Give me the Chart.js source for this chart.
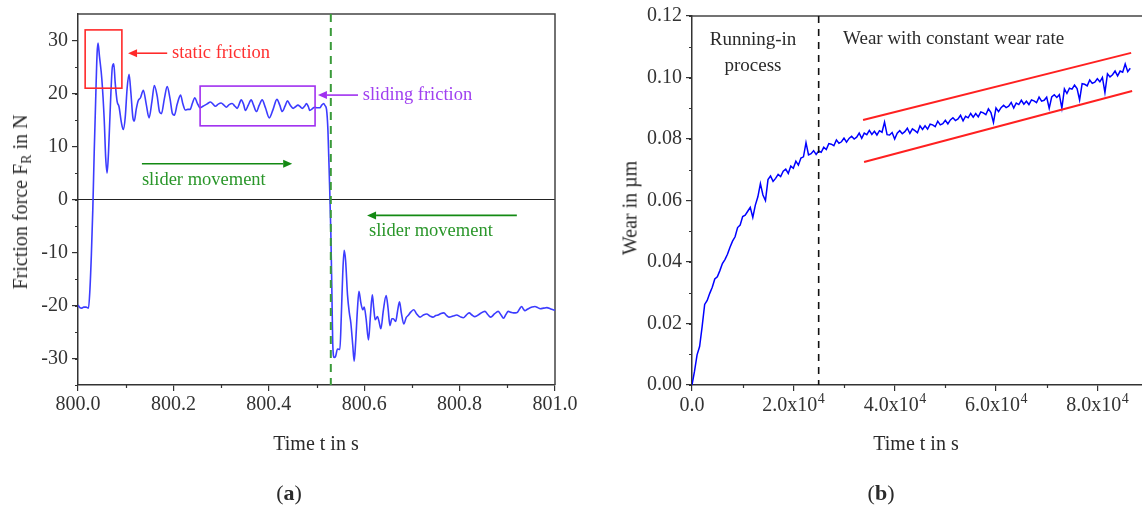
<!DOCTYPE html>
<html>
<head>
<meta charset="utf-8">
<script src="https://cdn.jsdelivr.net/npm/chart.js@4.4.1/dist/chart.umd.min.js"></script>
<style>
    html, body { margin: 0; padding: 0; background: #fff; }
    #page { position: relative; width: 1142px; height: 511px; overflow: hidden; font-family: "Liberation Serif", serif; color: #2a2a2a; }
    .box { position: absolute; top: 0; height: 511px; }
    #boxA { left: 0; width: 585px; }
    #boxB { left: 580px; width: 580px; }
    .lbl { position: absolute; font-size: 20px; white-space: nowrap; transform: translate(-50%, -50%); }
    .rot { transform: translate(-50%, -50%) rotate(-90deg); }
    .cap { font-size: 22px; }
    sub { font-size: 14px; vertical-align: -4px; }
</style>
</head>
<body>
<div id="page">
    <div class="box" id="boxA"><canvas id="chartA" width="585" height="511"></canvas></div>
    <div class="box" id="boxB"><canvas id="chartB" width="580" height="511"></canvas></div>
    <div class="lbl rot" style="left:22px;top:202px">Friction force F<sub>R</sub> in N</div>
    <div class="lbl" style="left:316px;top:443px">Time t in s</div>
    <div class="lbl cap" style="left:289px;top:493px">(<b>a</b>)</div>
    <div class="lbl rot" style="left:630px;top:208px">Wear in µm</div>
    <div class="lbl" style="left:916px;top:443px">Time t in s</div>
    <div class="lbl cap" style="left:881px;top:493px">(<b>b</b>)</div>
</div>
<script>
// (a) friction force over one stroke reversal
const forceTimes = [
    800.000, 800.004, 800.008, 800.012, 800.017, 800.022, 800.025, 800.028, 800.031, 800.034,
    800.037, 800.040, 800.042, 800.045, 800.050, 800.055, 800.058, 800.061, 800.064, 800.068,
    800.072, 800.075, 800.078, 800.082, 800.086, 800.091, 800.095, 800.099, 800.103, 800.107,
    800.111, 800.115, 800.118, 800.122, 800.126, 800.131, 800.137, 800.143, 800.149, 800.155,
    800.160, 800.166, 800.171, 800.175, 800.181, 800.187, 800.193, 800.198, 800.202, 800.208,
    800.215, 800.220, 800.225, 800.230, 800.235, 800.240, 800.245, 800.250, 800.256, 800.262,
    800.270, 800.278, 800.283, 800.288, 800.294, 800.300, 800.306, 800.311, 800.317, 800.323,
    800.329, 800.334, 800.338, 800.342, 800.347, 800.351, 800.357, 800.363, 800.368, 800.374,
    800.380, 800.386, 800.393, 800.401, 800.409, 800.417, 800.423, 800.428, 800.434, 800.439,
    800.445, 800.451, 800.456, 800.461, 800.466, 800.470, 800.475, 800.479, 800.483, 800.486,
    800.491, 800.496, 800.501, 800.507, 800.511, 800.515, 800.518, 800.521, 800.524, 800.527,
    800.530, 800.532, 800.534, 800.537, 800.540, 800.544, 800.549, 800.552, 800.555, 800.558,
    800.561, 800.565, 800.569, 800.572, 800.576, 800.579, 800.582, 800.586, 800.589, 800.593,
    800.597, 800.600, 800.604, 800.609, 800.613, 800.617, 800.620, 800.623, 800.628, 800.631,
    800.635, 800.640, 800.646, 800.650, 800.654, 800.658, 800.661, 800.666, 800.670, 800.674,
    800.678, 800.683, 800.688, 800.692, 800.698, 800.704, 800.710, 800.717, 800.724, 800.731,
    800.738, 800.744, 800.750, 800.755, 800.761, 800.767, 800.773, 800.778, 800.786, 800.794,
    800.801, 800.808, 800.814, 800.820, 800.826, 800.832, 800.842, 800.853, 800.859, 800.865,
    800.873, 800.881, 800.887, 800.892, 800.897, 800.902, 800.908, 800.913, 800.917, 800.921,
    800.926, 800.930, 800.934, 800.937, 800.942, 800.946, 800.952, 800.958, 800.964, 800.969,
    800.976, 800.983, 800.990, 800.996, 801.000
];
const forceValues = [
    -19.9, -20.4, -20.5, -20.3, -20.3, -20.5, -17.0, -10.5, -2.0, 9.0,
    18.6, 27.5, 29.5, 27.0, 22.7, 15.0, 8.0, 5.0, 9.0, 18.0,
    25.0, 25.6, 22.0, 18.5, 17.5, 14.5, 13.2, 15.5, 21.0, 23.6,
    20.0, 15.5, 14.8, 17.0, 18.6, 19.2, 20.6, 18.0, 15.4, 18.5,
    21.5, 19.5, 16.5, 16.2, 19.0, 21.3, 19.0, 16.2, 15.9, 18.0,
    19.7, 18.0, 16.9, 17.0, 17.0, 18.2, 19.2, 18.2, 17.3, 17.6,
    18.0, 18.4, 18.0, 17.6, 18.0, 18.2, 17.8, 17.4, 17.9, 18.1,
    17.6, 17.2, 18.0, 18.8, 18.0, 16.8, 17.8, 18.8, 17.8, 16.6,
    17.8, 18.8, 17.3, 15.4, 17.0, 18.9, 17.8, 16.6, 17.6, 18.6,
    17.8, 17.2, 17.5, 17.8, 17.5, 17.2, 17.6, 18.1, 17.5, 16.8,
    17.1, 17.4, 17.3, 17.3, 17.8, 18.1, 17.7, 17.0, 13.0, 4.0,
    -6.0, -16.0, -27.0, -29.8, -29.6, -28.2, -28.3, -22.0, -14.0, -9.6,
    -11.5, -18.0, -21.5, -23.3, -27.5, -30.5, -27.0, -20.5, -17.3, -19.5,
    -20.8, -20.3, -22.5, -26.5, -22.0, -18.0, -20.5, -22.7, -22.1, -23.0,
    -24.4, -21.0, -18.1, -20.5, -23.8, -22.5, -22.5, -23.0, -21.0, -19.3,
    -21.5, -23.5, -22.3, -21.9, -21.2, -20.8, -21.6, -22.2, -21.8, -21.6,
    -22.0, -22.2, -21.9, -21.8, -21.5, -21.4, -21.9, -22.2, -22.0, -21.8,
    -22.1, -22.3, -21.8, -21.4, -21.8, -22.1, -21.6, -21.1, -21.7, -22.2,
    -21.6, -21.1, -21.8, -22.4, -21.7, -21.1, -21.3, -21.4, -21.4, -21.3,
    -20.6, -20.2, -20.7, -21.0, -20.7, -20.5, -20.3, -20.2, -20.4, -20.6,
    -20.5, -20.4, -20.6, -20.8, -20.9
];
const forceTicksX = [800.0, 800.2, 800.4, 800.6, 800.8, 801.0];
const forceTicksY = [-30, -20, -10, 0, 10, 20, 30];
const reversalTime = 800.53;

// (b) wear over the test, one sample every 500 s
const wearStep = 500;
const wearValues = [
    0.0000, 0.0045, 0.0098, 0.0125, 0.0190, 0.0262, 0.0275, 0.0298, 0.0318, 0.0345,
    0.0352, 0.0372, 0.0395, 0.0408, 0.0425, 0.0448, 0.0468, 0.0482, 0.0512, 0.0520,
    0.0548, 0.0552, 0.0565, 0.0578, 0.0545, 0.0585, 0.0612, 0.0655, 0.0618, 0.0600,
    0.0668, 0.0680, 0.0662, 0.0672, 0.0685, 0.0678, 0.0695, 0.0702, 0.0688, 0.0712,
    0.0705, 0.0728, 0.0715, 0.0738, 0.0742, 0.0788, 0.0748, 0.0752, 0.0762, 0.0750,
    0.0761, 0.0757, 0.0773, 0.0766, 0.0785, 0.0783, 0.0778, 0.0797, 0.0786, 0.0791,
    0.0803, 0.0790, 0.0802, 0.0809, 0.0800, 0.0806, 0.0819, 0.0802, 0.0819, 0.0814,
    0.0828, 0.0815, 0.0825, 0.0813, 0.0827, 0.0822, 0.0855, 0.0814, 0.0813, 0.0821,
    0.0800, 0.0819, 0.0827, 0.0817, 0.0824, 0.0835, 0.0818, 0.0833, 0.0827, 0.0820,
    0.0843, 0.0831, 0.0843, 0.0832, 0.0848, 0.0846, 0.0840, 0.0858, 0.0846, 0.0850,
    0.0861, 0.0849, 0.0862, 0.0869, 0.0860, 0.0865, 0.0877, 0.0859, 0.0874, 0.0869,
    0.0883, 0.0871, 0.0883, 0.0872, 0.0888, 0.0885, 0.0879, 0.0898, 0.0886, 0.0854,
    0.0901, 0.0889, 0.0902, 0.0910, 0.0902, 0.0907, 0.0919, 0.0901, 0.0917, 0.0912,
    0.0926, 0.0913, 0.0923, 0.0912, 0.0927, 0.0924, 0.0918, 0.0936, 0.0923, 0.0926,
    0.0936, 0.0900, 0.0937, 0.0944, 0.0935, 0.0944, 0.0900, 0.0963, 0.0948, 0.0965,
    0.0962, 0.0975, 0.0964, 0.0927, 0.0980, 0.0978, 0.0973, 0.0992, 0.0981, 0.0985,
    0.0996, 0.0986, 0.1000, 0.0951, 0.1012, 0.1002, 0.1009, 0.1021, 0.1005, 0.1021,
    0.1017, 0.1044, 0.1019, 0.1030
];
const wearTicks = [0, 20000, 40000, 60000, 80000];
const runInEnd = 25000;
const upperBand = [[33760, 0.0862], [86670, 0.1080]];
const lowerBand = [[33960, 0.0725], [86870, 0.0956]];

const AXIS = '#333';
const tickFont = { family: '"Liberation Serif", serif', size: 20 };

function arrow(ctx, x1, y1, x2, y2, color, width) {
    const ang = Math.atan2(y2 - y1, x2 - x1);
    const hl = 9, hw = 4;
    ctx.strokeStyle = color;
    ctx.fillStyle = color;
    ctx.lineWidth = width;
    ctx.setLineDash([]);
    ctx.beginPath();
    ctx.moveTo(x1, y1);
    ctx.lineTo(x2 - Math.cos(ang) * hl, y2 - Math.sin(ang) * hl);
    ctx.stroke();
    ctx.beginPath();
    ctx.moveTo(x2, y2);
    ctx.lineTo(x2 - Math.cos(ang) * hl - Math.sin(ang) * hw, y2 - Math.sin(ang) * hl + Math.cos(ang) * hw);
    ctx.lineTo(x2 - Math.cos(ang) * hl + Math.sin(ang) * hw, y2 - Math.sin(ang) * hl - Math.cos(ang) * hw);
    ctx.closePath();
    ctx.fill();
}

function minorTicks(ctx, chart, xStep, yStep) {
    const { chartArea: a, scales: { x, y } } = chart;
    ctx.strokeStyle = AXIS;
    ctx.lineWidth = 1.2;
    ctx.setLineDash([]);
    ctx.beginPath();
    for (let v = x.min + xStep / 2; v < x.max; v += xStep) {
        const px = Math.round(x.getPixelForValue(v)) + 0.5;
        ctx.moveTo(px, a.bottom);
        ctx.lineTo(px, a.bottom + 3);
    }
    for (let v = Math.ceil(y.min / yStep) * yStep; v < y.max; v += yStep) {
        const py = Math.round(y.getPixelForValue(v)) + 0.5;
        ctx.moveTo(a.left, py);
        ctx.lineTo(a.left - 3, py);
    }
    ctx.stroke();
}

function frame(ctx, chart, withRight) {
    const a = chart.chartArea;
    ctx.strokeStyle = '#444';
    ctx.lineWidth = 1.5;
    ctx.setLineDash([]);
    ctx.beginPath();
    ctx.moveTo(a.left, a.top);
    ctx.lineTo(a.right + (withRight ? 0 : 10), a.top);
    if (withRight) ctx.lineTo(a.right, a.bottom);
    ctx.stroke();
}

const frictionMarks = {
    id: 'frictionMarks',
    beforeDatasetsDraw(chart) {
        const { ctx, chartArea: a, scales: { y } } = chart;
        ctx.save();
        const y0 = y.getPixelForValue(0);
        ctx.strokeStyle = '#222';
        ctx.lineWidth = 1;
        ctx.beginPath();
        ctx.moveTo(a.left, y0);
        ctx.lineTo(a.right, y0);
        ctx.stroke();
        frame(ctx, chart, true);
        minorTicks(ctx, chart, 0.2, 5);
        ctx.restore();
    },
    afterDatasetsDraw(chart) {
        const { ctx, chartArea: a, scales: { x, y } } = chart;
        const X = v => x.getPixelForValue(v), Y = v => y.getPixelForValue(v);
        ctx.save();
        // reversal point
        ctx.strokeStyle = '#3a9a3a';
        ctx.lineWidth = 2;
        ctx.setLineDash([8, 6]);
        ctx.beginPath();
        ctx.moveTo(X(reversalTime), a.top);
        ctx.lineTo(X(reversalTime), a.bottom);
        ctx.stroke();
        ctx.setLineDash([]);

        ctx.font = '18.5px "Liberation Serif", serif';
        ctx.textBaseline = 'middle';
        ctx.textAlign = 'left';

        // static friction
        ctx.strokeStyle = '#ff2a2a';
        ctx.lineWidth = 1.6;
        ctx.strokeRect(X(800.015), Y(32), X(800.092) - X(800.015), Y(21) - Y(32));
        arrow(ctx, X(800.187), Y(27.6), X(800.105), Y(27.6), '#ff2a2a', 1.6);
        ctx.fillStyle = '#ff3030';
        ctx.fillText('static friction', X(800.197), Y(27.6));

        // sliding friction
        ctx.strokeStyle = '#a030f0';
        ctx.lineWidth = 1.6;
        ctx.strokeRect(X(800.256), Y(21.4), X(800.497) - X(800.256), Y(13.9) - Y(21.4));
        arrow(ctx, X(800.587), Y(19.7), X(800.503), Y(19.7), '#a030f0', 1.6);
        ctx.fillStyle = '#a040f0';
        ctx.fillText('sliding friction', X(800.597), Y(19.7));

        // slider movement
        arrow(ctx, X(800.134), Y(6.75), X(800.449), Y(6.75), '#138a13', 1.6);
        arrow(ctx, X(800.920), Y(-3.0), X(800.606), Y(-3.0), '#138a13', 1.6);
        ctx.fillStyle = '#2a962a';
        ctx.fillText('slider movement', X(800.134), Y(3.6));
        ctx.fillText('slider movement', X(800.610), Y(-6.0));
        ctx.restore();
    }
};

const wearMarks = {
    id: 'wearMarks',
    beforeDatasetsDraw(chart) {
        const { ctx } = chart;
        ctx.save();
        frame(ctx, chart, false);
        minorTicks(ctx, chart, 20000, 0.01);
        ctx.restore();
    },
    afterDatasetsDraw(chart) {
        const { ctx, chartArea: a, scales: { x, y } } = chart;
        const X = v => x.getPixelForValue(v), Y = v => y.getPixelForValue(v);
        ctx.save();
        ctx.strokeStyle = '#111';
        ctx.lineWidth = 1.6;
        ctx.setLineDash([7, 6]);
        ctx.beginPath();
        ctx.moveTo(X(runInEnd), a.top);
        ctx.lineTo(X(runInEnd), a.bottom);
        ctx.stroke();
        ctx.setLineDash([]);

        ctx.strokeStyle = '#ff2020';
        ctx.lineWidth = 2;
        [upperBand, lowerBand].forEach(band => {
            ctx.beginPath();
            ctx.moveTo(X(band[0][0]), Y(band[0][1]));
            ctx.lineTo(X(band[1][0]), Y(band[1][1]));
            ctx.stroke();
        });

        ctx.fillStyle = '#2a2a2a';
        ctx.font = '19px "Liberation Serif", serif';
        ctx.textBaseline = 'middle';
        ctx.textAlign = 'center';
        ctx.fillText('Running-in', X(12040), Y(0.1122));
        ctx.fillText('process', X(12040), Y(0.1037));
        ctx.textAlign = 'left';
        ctx.fillText('Wear with constant wear rate', X(29810), Y(0.1125));

        // x tick labels with a power of ten
        ctx.fillStyle = AXIS;
        ctx.textBaseline = 'alphabetic';
        wearTicks.forEach(v => {
            const cx = X(v), by = a.bottom + 26;
            if (v === 0) {
                ctx.font = '20px "Liberation Serif", serif';
                ctx.textAlign = 'center';
                ctx.fillText('0.0', cx, by);
                return;
            }
            const base = (v / 10000).toFixed(1) + 'x10';
            ctx.font = '20px "Liberation Serif", serif';
            const w1 = ctx.measureText(base).width;
            ctx.font = '14px "Liberation Serif", serif';
            const w2 = ctx.measureText('4').width;
            const left = cx - (w1 + w2) / 2;
            ctx.textAlign = 'left';
            ctx.font = '20px "Liberation Serif", serif';
            ctx.fillText(base, left, by);
            ctx.font = '14px "Liberation Serif", serif';
            ctx.fillText('4', left + w1 + 0.5, by - 8);
        });
        ctx.restore();
    }
};

function axisCommon(extra) {
    return Object.assign({
        type: 'linear',
        grid: { drawOnChartArea: false, tickLength: 6, color: AXIS, lineWidth: 1.2 },
        border: { color: AXIS, width: 1.5 }
    }, extra);
}

new Chart(document.getElementById('chartA'), {
    type: 'line',
    data: {
        datasets: [{
            data: forceTimes.map((t, i) => ({ x: t, y: forceValues[i] })),
            borderColor: '#3c3cff',
            borderWidth: 1.6,
            pointRadius: 0,
            cubicInterpolationMode: 'monotone'
        }]
    },
    options: {
        responsive: false,
        animation: false,
        layout: { padding: { top: 14, right: 30, left: 0, bottom: 0 } },
        plugins: { legend: { display: false }, tooltip: { enabled: false } },
        scales: {
            x: axisCommon({
                min: 800, max: 801,
                afterBuildTicks: s => { s.ticks = forceTicksX.map(v => ({ value: v })); },
                afterFit: s => { s.height = 126; s.paddingLeft = 0; s.paddingRight = 0; },
                ticks: { font: tickFont, color: AXIS, padding: 2, callback: v => v.toFixed(1) }
            }),
            y: axisCommon({
                min: -35, max: 35,
                afterBuildTicks: s => { s.ticks = forceTicksY.map(v => ({ value: v })); },
                afterFit: s => { s.width = 78; s.paddingTop = 0; s.paddingBottom = 0; },
                ticks: { font: tickFont, color: AXIS, padding: 4, callback: v => String(v) }
            })
        }
    },
    plugins: [frictionMarks]
});

new Chart(document.getElementById('chartB'), {
    type: 'line',
    data: {
        datasets: [{
            data: wearValues.map((w, i) => ({ x: i * wearStep, y: w })),
            borderColor: '#0000ff',
            borderWidth: 1.5,
            pointRadius: 0,
            tension: 0
        }]
    },
    options: {
        responsive: false,
        animation: false,
        layout: { padding: { top: 16, right: 12, left: 0, bottom: 0 } },
        plugins: { legend: { display: false }, tooltip: { enabled: false } },
        scales: {
            x: axisCommon({
                min: 0, max: 90000,
                afterBuildTicks: s => { s.ticks = wearTicks.map(v => ({ value: v })); },
                afterFit: s => { s.height = 126; s.paddingLeft = 0; s.paddingRight = 0; },
                ticks: { display: false }
            }),
            y: axisCommon({
                min: 0, max: 0.12,
                afterFit: s => { s.width = 112; s.paddingTop = 0; s.paddingBottom = 0; },
                ticks: { font: tickFont, color: AXIS, padding: 4, stepSize: 0.02, callback: v => v.toFixed(2) }
            })
        }
    },
    plugins: [wearMarks]
});
</script>
</body>
</html>
